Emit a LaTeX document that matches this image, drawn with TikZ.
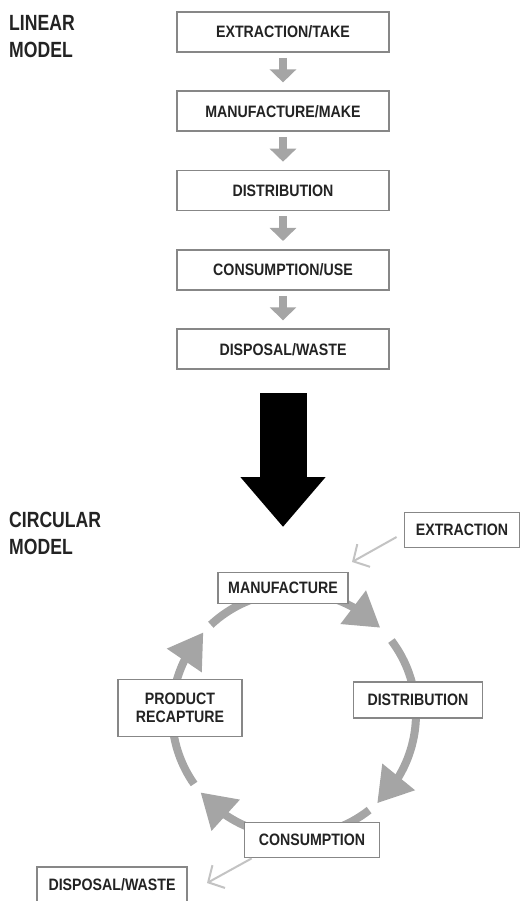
\documentclass[tikz,border=0pt]{standalone}
\usepackage{fontspec}
\setmainfont{Liberation Sans}[FakeStretch=0.8]
\newfontfamily\stagefont{Liberation Sans}[FakeStretch=0.86]
\usetikzlibrary{arrows.meta, positioning, bending}
\definecolor{boxgray}{RGB}{135,135,135}
\definecolor{flowgray}{RGB}{165,165,165}
\definecolor{thingray}{RGB}{195,195,195}
\definecolor{inkdark}{RGB}{35,35,35}

\begin{document}
\begin{tikzpicture}[x=1pt, y=1pt,
  stagebox/.style={draw=boxgray, line width=1.8pt, fill=white, text=inkdark,
    font=\stagefont\bfseries\fontsize{16.5}{18}\selectfont, inner sep=4pt, align=center},
  linbox/.style={stagebox, minimum width=212pt, minimum height=40pt},
  modeltitle/.style={font=\bfseries\fontsize{22}{27}\selectfont, text=inkdark,
    align=left, anchor=north west, inner sep=0pt},
  linarrow/.style={draw=flowgray, line width=8pt,
    -{Triangle[length=13pt, width=26pt]}, shorten <=5pt, shorten >=8pt},
  cycarrow/.style={draw=flowgray, line width=8pt,
    -{Triangle[length=34pt, width=40pt, flex]}},
  thinarrow/.style={draw=thingray, line width=2pt,
    -{Straight Barb[length=12pt, width=26pt]}}
]
  \useasboundingbox (0,0) rectangle (521,-901);

  % linear model
  \node[modeltitle] (lintitle) at (9,-15) {LINEAR\\MODEL};
  \node[linbox] (take) at (283,-32) {EXTRACTION/TAKE};
  \node[linbox, below=37.5pt of take] (make) {MANUFACTURE/MAKE};
  \node[linbox, below=37.5pt of make] (distrib) {DISTRIBUTION};
  \node[linbox, below=37.5pt of distrib] (use) {CONSUMPTION/USE};
  \node[linbox, below=37.5pt of use] (dispose) {DISPOSAL/WASTE};
  \draw[linarrow] (take) -- (make);
  \draw[linarrow] (make) -- (distrib);
  \draw[linarrow] (distrib) -- (use);
  \draw[linarrow] (use) -- (dispose);

  % big transition arrow
  \coordinate (bigtop) at (283,-393);
  \coordinate (bigtip) at (283,-527);
  \draw[black, line width=47pt, -{Triangle[length=50pt, width=82pt]}] (bigtop) -- (bigtip);

  % circular model
  \node[modeltitle] (circtitle) at (9,-512) {CIRCULAR\\MODEL};
  \coordinate (hub) at (294,-714);
  \draw[cycarrow] ([shift={(133:122)}]hub) arc[start angle=133, end angle=45, radius=122];
  \draw[cycarrow] ([shift={(37:122)}]hub) arc[start angle=37, end angle=-47, radius=122];
  \draw[cycarrow] ([shift={(-52:122)}]hub) arc[start angle=-52, end angle=-140, radius=122];
  \draw[cycarrow] ([shift={(-145:122)}]hub) arc[start angle=-145, end angle=-222, radius=122];

  \node[stagebox, minimum width=130pt, minimum height=31pt] (manu) at (283,-588) {MANUFACTURE};
  \node[stagebox, minimum width=129pt, minimum height=36pt] (dist) at (418,-700) {DISTRIBUTION};
  \node[stagebox, minimum width=124pt, minimum height=57pt] (recap) at (180,-708) {PRODUCT\\RECAPTURE};
  \node[stagebox, minimum width=135pt, minimum height=35pt] (cons) at (312,-840) {CONSUMPTION};
  \node[stagebox, minimum width=115pt, minimum height=35pt] (extr) at (462,-530) {EXTRACTION};
  \node[stagebox, minimum width=150pt, minimum height=36pt] (waste) at (112,-885) {DISPOSAL/WASTE};

  \coordinate (extrin) at (352,-562);
  \coordinate (wastein) at (207,-883);
  \draw[thinarrow] ([xshift=-7pt, yshift=-7pt]extr.west) -- (extrin);
  \draw[thinarrow] ([xshift=8pt]cons.south west) -- (wastein);
\end{tikzpicture}
\end{document}
